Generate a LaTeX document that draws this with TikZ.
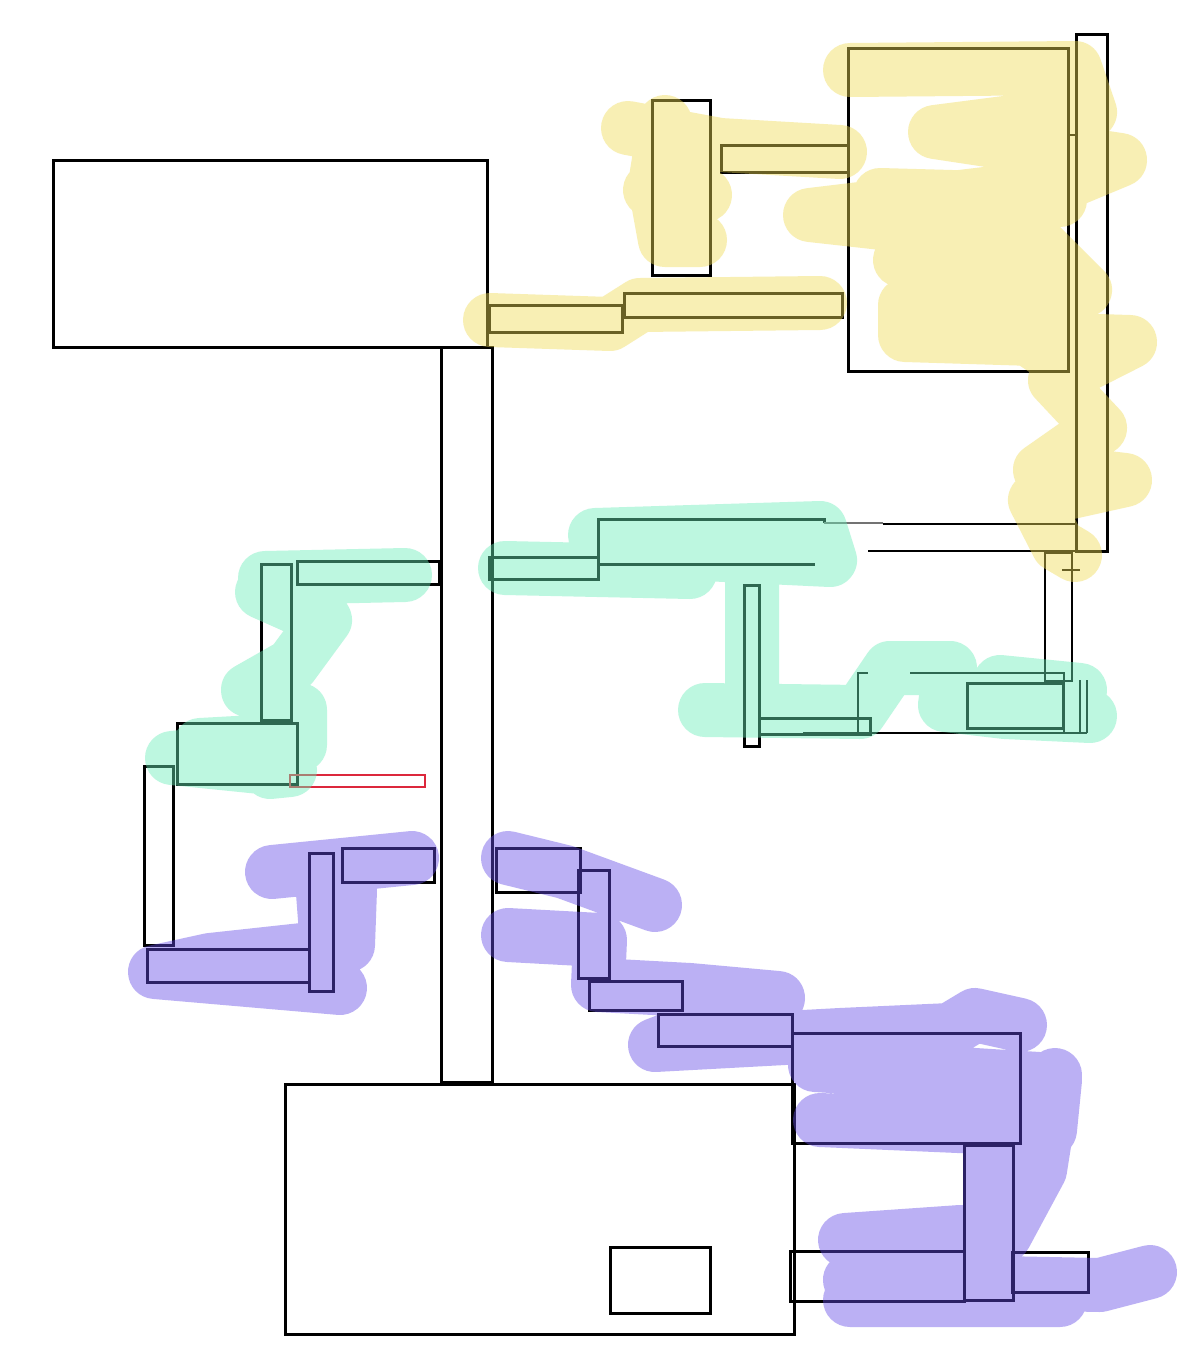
\documentclass[tikz,border=0pt]{standalone}
\usepackage{tikz}

\definecolor{hlyellow}{RGB}{241,219,86}
\definecolor{hlgreen}{RGB}{106,237,185}
\definecolor{hlpurple}{RGB}{102,77,232}
\definecolor{pipered}{RGB}{220,40,60}

\begin{document}
\begin{tikzpicture}[x=1pt,y=-1pt,
  room/.style={draw=black,line width=3pt,line join=miter},
  thinwall/.style={draw=black,line width=1.9pt},
  hilite/.style={line width=54pt,line cap=round,line join=round}]
  \useasboundingbox[fill=white] (0,0) rectangle (1198,1352);
  % 1. The big blocks and the long corridor between them
  \draw[room] (53,160) rectangle (487,347);
  \draw[room] (441,347) rectangle (492,1082);
  \draw[room] (285,1084) rectangle (794,1334);
  \draw[room] (610,1247) rectangle (710,1313);
  % 2. Upper right group
  \draw[room] (1076,34) rectangle (1107,551);
  \draw[room] (848,48) rectangle (1068,371);
  \draw[thinwall] (1068,135) -- (1076,135);
  \draw[room] (652,100) rectangle (710,275);
  \draw[room] (721,145) rectangle (848,172);
  \draw[room] (489,305) rectangle (622,332);
  \draw[room] (624,293) rectangle (842,317);
  % 3. Middle right group
  \draw[room] (489,557) rectangle (598,579);
  \draw[room] (598,557) -- (598,519) -- (824,519) -- (824,523);
  \draw[thinwall,draw=black!55] (824,523) -- (883,523);
  \draw[thinwall] (883,524) -- (1076,524);
  \draw[room] (598,564) -- (815,564);
  \draw[thinwall] (868,551) -- (1076,551);
  \draw[thinwall] (1045,553) rectangle (1072,681);
  \draw[thinwall] (1062,570) -- (1080,570);
  \draw[room] (744,585) rectangle (759,746);
  \draw[room] (759,718) rectangle (870,734);
  \draw[thinwall] (858,733) -- (858,673) -- (868,673);
  \draw[thinwall] (910,673) -- (1064,673) -- (1064,733);
  \draw[thinwall] (803,733) -- (1087,733);
  \draw[thinwall] (1080,680) -- (1080,733);
  \draw[thinwall] (1087,680) -- (1087,733);
  \draw[room] (967,683) rectangle (1063,728);
  % 4. Middle left group
  \draw[room] (297,561) rectangle (439,584);
  \draw[room] (261,564) rectangle (291,720);
  \draw[room] (177,723) rectangle (297,784);
  \draw[room] (144,766) rectangle (173,945);
  \draw[pipered,line width=1.6pt] (290,775) rectangle (425,787);
  % 5. Lower left group
  \draw[room] (147,949) rectangle (309,982);
  \draw[room] (309,853) rectangle (333,991);
  \draw[room] (342,848) rectangle (434,882);
  % 6. Lower right group
  \draw[room] (496,848) rectangle (580,892);
  \draw[room] (578,870) rectangle (609,978);
  \draw[room] (589,981) rectangle (682,1010);
  \draw[room] (658,1014) rectangle (792,1046);
  \draw[room] (792,1033) rectangle (1020,1143);
  \draw[room] (964,1145) rectangle (1013,1300);
  \draw[room] (790,1251) rectangle (964,1301);
  \draw[room] (1012,1252) rectangle (1088,1292);
  % highlighter strokes on top
  \begin{scope}[transparency group,opacity=0.44]
    \draw[hilite,hlyellow] (628,128) -- (720,145) -- (840,152)
      (665,122) -- (655,185) -- (665,240) -- (700,240)
      (650,190) -- (705,195)
      (490,320) -- (610,324) -- (640,305) -- (820,303)
      (850,70) -- (1075,68) -- (1090,112) -- (935,132) -- (1120,160)
      -- (1060,185) -- (810,215) -- (1035,240) -- (1085,290) -- (905,305)
      -- (905,335) -- (1130,342) -- (1055,380) -- (1100,428) -- (1040,470)
      -- (1125,480) -- (1035,500) -- (1058,545) -- (1075,555)
      (880,195) -- (1060,200) (900,260) -- (1050,275) (1000,320) -- (1060,360);
    \draw[hilite,hlgreen] (505,568) -- (690,572)
      (595,535) -- (820,528) -- (830,560) -- (620,550)
      (752,575) -- (752,690)
      (705,710) -- (860,712) -- (890,668) -- (950,668) -- (945,705)
      -- (1005,712) -- (1090,716)
      (1000,682) -- (1080,690)
      (265,578) -- (405,575)
      (262,592) -- (325,620) -- (292,665) -- (248,690) -- (300,710)
      -- (300,745) -- (172,758) -- (290,770) -- (270,772)
      (200,745) -- (290,740);
    \draw[hilite,hlpurple] (272,872) -- (412,858)
      (350,890) -- (348,945) -- (210,960) -- (155,972) -- (340,988)
      (322,880) -- (330,985)
      (508,858) -- (565,872) -- (655,905)
      (508,935) -- (600,940) -- (598,985) -- (690,990) -- (778,998)
      -- (655,1045) -- (840,1035) -- (950,1030) -- (975,1015) -- (1020,1025)
      (815,1065) -- (1055,1080) -- (1050,1130) -- (820,1120)
      (1055,1075) -- (1040,1170) -- (1005,1235)
      (845,1240) -- (960,1232) -- (850,1280) -- (1100,1285) -- (1150,1272)
      (850,1300) -- (1060,1300)
      (990,1150) -- (990,1290);
  \end{scope}
\end{tikzpicture}
\end{document}
